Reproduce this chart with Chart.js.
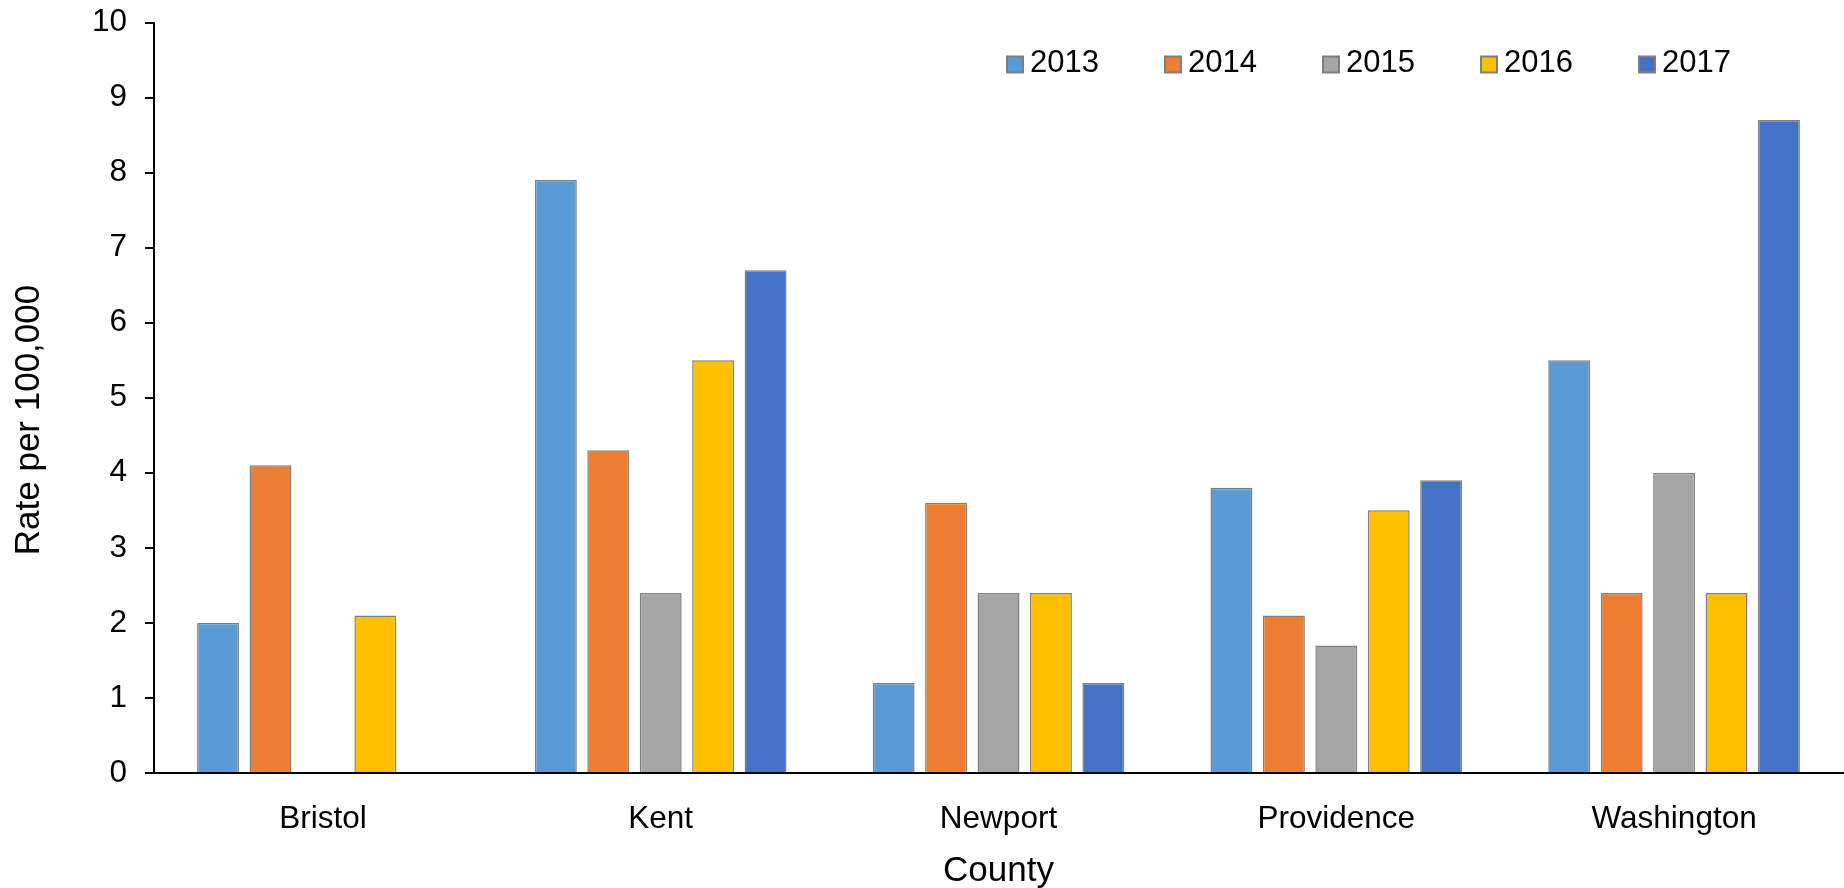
<!DOCTYPE html>
<html>
<head>
<meta charset="utf-8">
<title>Rate per 100,000 by County</title>
<script src="https://cdn.jsdelivr.net/npm/chart.js@4.4.1/dist/chart.umd.min.js"></script>
<style>
    html, body { margin: 0; padding: 0; background: #fff; }
    #wrap { width: 1844px; height: 888px; }
</style>
</head>
<body>
<div id="wrap"><canvas id="rateChart" width="1844" height="888"></canvas></div>
<script>
const counties = ['Bristol', 'Kent', 'Newport', 'Providence', 'Washington'];
const years = ['2013', '2014', '2015', '2016', '2017'];
const rates2013 = [2.0, 7.9, 1.2, 3.8, 5.5];
const rates2014 = [4.1, 4.3, 3.6, 2.1, 2.4];
const rates2015 = [null, 2.4, 2.4, 1.7, 4.0];
const rates2016 = [2.1, 5.5, 2.4, 3.5, 2.4];
const rates2017 = [null, 6.7, 1.2, 3.9, 8.7];
const yTicks = [0, 1, 2, 3, 4, 5, 6, 7, 8, 9, 10];

const seriesValues = [rates2013, rates2014, rates2015, rates2016, rates2017];
const seriesColors = ['#5B9BD5', '#ED7D31', '#A5A5A5', '#FFC000', '#4472C4'];
const FONT = "'Liberation Sans', Arial, sans-serif";
const yTitle = 'Rate per 100,000';

// legend drawn inside the plot, one row near the top
const rowLegend = {
    id: 'rowLegend',
    afterDraw(chart) {
        const ctx = chart.ctx;
        const startX = 1007, pitch = 158, cy = 64.5, box = 16;
        ctx.save();
        ctx.font = '31px ' + FONT;
        ctx.textBaseline = 'middle';
        ctx.textAlign = 'left';
        chart.data.datasets.forEach((ds, i) => {
            const x = startX + i * pitch;
            ctx.fillStyle = ds.backgroundColor;
            ctx.fillRect(x, cy - box / 2, box, box);
            ctx.strokeStyle = '#7f7f7f';
            ctx.lineWidth = 2;
            ctx.strokeRect(x, cy - box / 2, box, box);
            ctx.fillStyle = '#000';
            ctx.fillText(ds.label, x + box + 7, cy - 1);
        });
        ctx.restore();
    }
};

// vertical axis title, sits a little below the middle of the axis
const sideTitle = {
    id: 'sideTitle',
    afterDraw(chart) {
        const ctx = chart.ctx;
        ctx.save();
        ctx.translate(29, 420);
        ctx.rotate(-Math.PI / 2);
        ctx.font = '35px ' + FONT;
        ctx.fillStyle = '#000';
        ctx.textAlign = 'center';
        ctx.textBaseline = 'middle';
        ctx.fillText(yTitle, 0, 0);
        ctx.restore();
    }
};

new Chart(document.getElementById('rateChart'), {
    type: 'bar',
    data: {
        labels: counties,
        datasets: years.map((y, i) => ({
            label: y,
            data: seriesValues[i],
            backgroundColor: seriesColors[i],
            borderColor: '#808080',
            borderWidth: 1.5,
            categoryPercentage: 0.776,
            barPercentage: 0.8
        }))
    },
    options: {
        responsive: false,
        animation: false,
        layout: { padding: { top: 22.5, right: 1, bottom: 0, left: 0 } },
        plugins: {
            legend: { display: false },
            tooltip: { enabled: false }
        },
        scales: {
            x: {
                grid: { display: false },
                border: { display: true, color: '#000', width: 2 },
                ticks: { color: '#000', padding: 19, font: { family: FONT, size: 31.5 } },
                title: {
                    display: true,
                    text: 'County',
                    color: '#000',
                    font: { family: FONT, size: 35 },
                    padding: { top: 0, bottom: -4 }
                },
                afterFit(scale) { scale.height = 115; }
            },
            y: {
                min: 0,
                max: 10,
                afterBuildTicks(scale) { scale.ticks = yTicks.map(v => ({ value: v })); },
                grid: {
                    drawOnChartArea: false,
                    drawTicks: true,
                    tickLength: 9,
                    color: '#000',
                    lineWidth: 2
                },
                border: { display: true, color: '#000', width: 2 },
                ticks: { color: '#000', padding: 18, font: { family: FONT, size: 31.5 } },
                afterFit(scale) {
                    scale.width = 154;
                    // the "10" label may overhang the plot top
                    scale.paddingTop = 0;
                    scale.paddingBottom = 0;
                }
            }
        }
    },
    plugins: [rowLegend, sideTitle]
});
</script>
</body>
</html>
